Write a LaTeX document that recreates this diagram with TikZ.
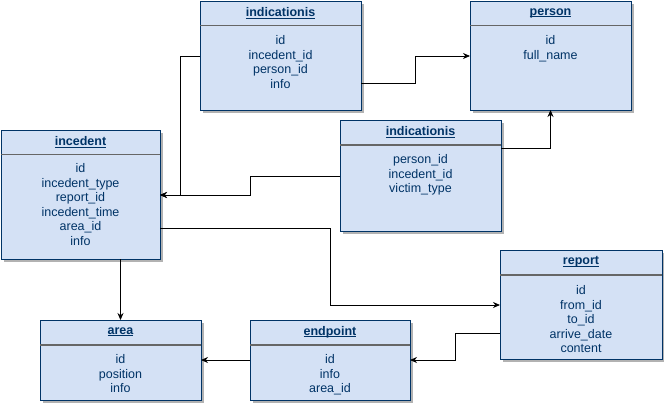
\documentclass[tikz,border=0pt]{standalone}
\usepackage{fontspec}
\setmainfont{Liberation Sans}
\usepackage{tikz}
\usetikzlibrary{arrows.meta,shadows}
\definecolor{boxfill}{HTML}{D4E1F5}
\definecolor{boxline}{HTML}{003366}
\newcommand{\ultitle}[1]{\setbox0\hbox{#1}\rlap{\rule[-1.8pt]{\wd0}{0.9pt}}\box0}

\begin{document}
\begin{tikzpicture}[x=1pt,y=-1pt,
	entity/.style={draw=boxline,fill=boxfill,line width=1pt,anchor=north west,inner sep=0,outer sep=0,
		drop shadow={shadow xshift=3pt,shadow yshift=-3pt,fill=black!30,opacity=1}},
	title/.style={text=boxline,font=\bfseries\fontsize{12.5}{14.5}\selectfont},
	fields/.style={text=boxline,font=\fontsize{12.5}{14.5}\selectfont,align=center,anchor=north,inner sep=0},
	sep/.style={draw=black!60,line width=1.2pt},
	link/.style={draw=black,line width=0.8pt,-{Stealth[length=7pt,width=6pt]}}]
	\useasboundingbox (0,0) rectangle (664,405);

	% indicationis (top)
	\node [entity,minimum width=161,minimum height=109] (indA) at (200,1) {};
	\node [title] (indAt) at ([yshift=-12pt]indA.north) {\ultitle{indicationis}};
	\draw [sep] ([yshift=-24.5pt]indA.north west) -- ([yshift=-24.5pt]indA.north east);
	\node [fields] (indAf) at ([yshift=-34.5pt]indA.north) {id\\incedent\_id\\person\_id\\info};

	% person
	\node [entity,minimum width=161,minimum height=109] (person) at (470,1) {};
	\node [title] (persont) at ([yshift=-12pt]person.north) {\ultitle{person}};
	\draw [sep] ([yshift=-24.5pt]person.north west) -- ([yshift=-24.5pt]person.north east);
	\node [fields] (personf) at ([yshift=-34.5pt]person.north) {id\\full\_name};

	% incedent
	\node [entity,minimum width=159,minimum height=129] (incedent) at (1,130) {};
	\node [title] (incedentt) at ([yshift=-12pt]incedent.north) {\ultitle{incedent}};
	\draw [sep] ([yshift=-24.5pt]incedent.north west) -- ([yshift=-24.5pt]incedent.north east);
	\node [fields] (incedentf) at ([yshift=-33.5pt]incedent.north) {id\\incedent\_type\\report\_id\\incedent\_time\\area\_id\\info};

	% indicationis (middle)
	\node [entity,minimum width=161,minimum height=111] (indB) at (340,120) {};
	\node [title] (indBt) at ([yshift=-12pt]indB.north) {\ultitle{indicationis}};
	\draw [sep] ([yshift=-25pt]indB.north west) -- ([yshift=-25pt]indB.north east);
	\node [fields] (indBf) at ([yshift=-34.5pt]indB.north) {person\_id\\incedent\_id\\victim\_type};

	% report
	\node [entity,minimum width=162,minimum height=109] (report) at (500,250) {};
	\node [title] (reportt) at ([yshift=-12pt]report.north) {\ultitle{report}};
	\draw [sep] ([yshift=-25pt]report.north west) -- ([yshift=-25pt]report.north east);
	\node [fields] (reportf) at ([yshift=-35.5pt]report.north) {id\\from\_id\\to\_id\\arrive\_date\\content};

	% area
	\node [entity,minimum width=161,minimum height=80] (area) at (40,320) {};
	\node [title] (areat) at ([yshift=-12pt]area.north) {\ultitle{area}};
	\draw [sep] ([yshift=-25pt]area.north west) -- ([yshift=-25pt]area.north east);
	\node [fields] (areaf) at ([yshift=-34.5pt]area.north) {id\\position\\info};

	% endpoint
	\node [entity,minimum width=160,minimum height=80] (endpoint) at (250,320) {};
	\node [title] (endpointt) at ([yshift=-12pt]endpoint.north) {\ultitle{endpoint}};
	\draw [sep] ([yshift=-25pt]endpoint.north west) -- ([yshift=-25pt]endpoint.north east);
	\node [fields] (endpointf) at ([yshift=-34.5pt]endpoint.north) {id\\info\\area\_id};

	% links
	\draw [link] ([yshift=-55pt]indA.north west) -- ++(-20,0) |- ([yshift=-65pt]incedent.north east);
	\draw [link] ([yshift=-56pt]indB.north west) -- ++(-90,0) |- ([yshift=-65pt]incedent.north east);
	\draw [link] ([yshift=-82pt]indA.north east) -- ++(54,0) |- ([yshift=-55pt]person.north west);
	\draw [link] ([yshift=-28pt]indB.north east) -| (person.south);
	\draw [link] ([yshift=-98pt]incedent.north east) -- ++(170,0) |- ([yshift=-55pt]report.north west);
	\draw [link] ([yshift=-83pt]report.north west) -- ++(-45,0) |- ([yshift=-40pt]endpoint.north east);
	\draw [link] (incedent.south -| area.north) -- (area.north);
	\draw [link] (endpoint.west) -- (area.east);

\end{tikzpicture}
\end{document}
